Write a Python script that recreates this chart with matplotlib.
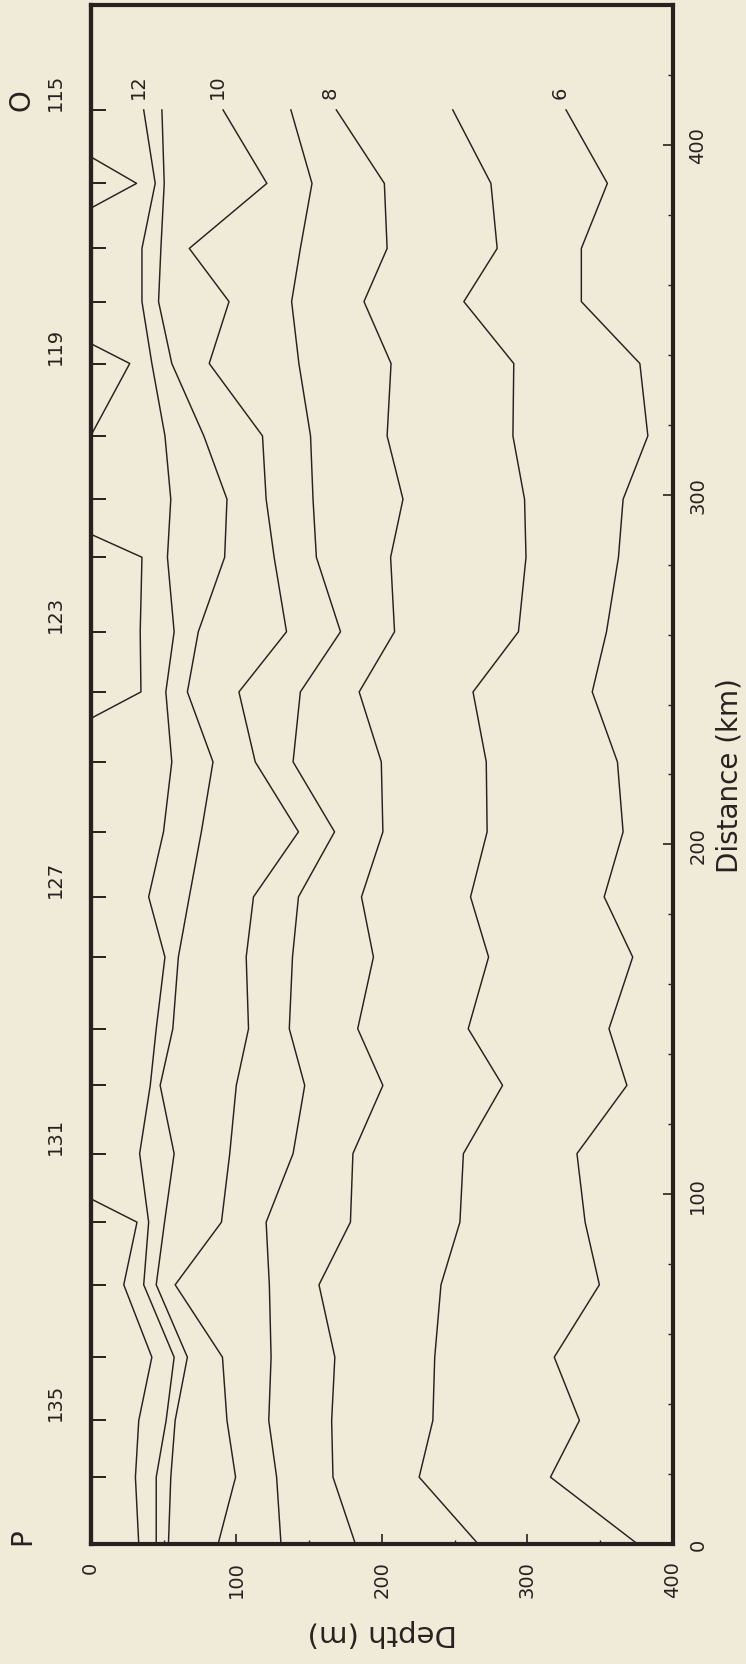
import matplotlib
matplotlib.use("Agg")
import matplotlib.pyplot as plt
from matplotlib.ticker import MultipleLocator

# ---------------- data ----------------
# stations from P (137) to O (115) and their distance along the section (km)
stations = [137, 136, 135, 134, 133, 132, 131, 130, 129, 128, 127, 126,
            125, 124, 123, 122, 121, 120, 119, 118, 117, 116, 115]
distance_km = [0, 19.1, 35.3, 53.4, 74.1, 92.0, 111.6, 131.1, 147.3, 167.8,
               185.0, 203.6, 223.6, 243.6, 260.8, 282.1, 298.7, 316.8,
               337.5, 355.2, 370.4, 389.0, 410.0]
station_labels = ["135", "131", "127", "123", "119", "115"]
section_end_labels = ["P", "O"]

# isotherm depths (m) at each station, P -> O
iso_12 = [45, 45, 51.8, 57.3, 36.4, 39.8, 33.6, 40.9, 45, 51, 39.8, 50,
          55.7, 51.6, 57.3, 52.7, 55, 51, 42, 35.2, 35.2, 44.3, 36.4]
iso_11 = [53.4, 55, 58, 66.4, 45, 50.7, 57.3, 47.7, 56.4, 60.2, 67.7, 76,
          84, 66.4, 73.9, 92, 93.6, 77.7, 55.7, 46.6, 48.2, 50.5, 48.9]
iso_10 = [87.5, 99.5, 93.6, 90.5, 58, 89.8, 95.5, 100, 108.4, 106.8, 111.8,
          142.7, 113, 101.8, 134.5, 126, 120.5, 118, 81.4, 95, 67.7, 121, 90.9]
iso_9 = [130.7, 127.7, 122.3, 123.9, 122.7, 120.5, 139, 147, 136.4, 138.6,
         142.7, 167.5, 139, 144, 171.6, 155, 152.7, 151, 143, 138, 144, 152,
         137.5]
iso_8 = [181.8, 166.4, 165.5, 167.7, 156.8, 178.4, 180.1, 200.7, 183.4,
         194.2, 186, 200.7, 199.6, 184.4, 208.7, 206, 214.5, 203.6, 206.3,
         187.7, 203.6, 201.7, 168.7]
iso_7 = [266.1, 225.6, 235, 236.3, 240.6, 253.6, 256, 282.9, 259.3, 273.3,
         260.9, 272.3, 271.7, 262.6, 293.8, 299, 298, 290, 290.6, 256.3,
         279.2, 274.9, 248.7]
iso_6 = [375.6, 315.8, 335.7, 318.4, 349.4, 339.6, 334, 368.3, 356, 372.3,
         352.7, 365.7, 361.8, 344.5, 354.3, 362.5, 365.7, 382.7, 377.2, 337,
         337, 354.9, 326.5]

# shallowest isotherm, broken where it reaches the surface
iso_13_dist = [[0, 19.1, 35.3, 53.4, 74.1, 92.0, 98.7],
               [236.0, 243.6, 260.8, 282.1, 288.7],
               [316.8, 337.5, 343.2],
               [381.9, 389.0, 396.6]]
iso_13_depth = [[33, 30.7, 33, 42, 22.7, 31.8, 0],
                [0, 34.5, 34, 35.2, 0],
                [0, 26.8, 0],
                [0, 31.5, 0]]

isotherms = [iso_12, iso_11, iso_10, iso_9, iso_8, iso_7, iso_6]
isotherm_names = ["12", "", "10", "", "8", "", "6"]

# ---------------- style ----------------
BG = "#efebd8"
INK = "#2a2020"
plt.rcParams["font.family"] = ["DejaVu Sans"]

fig = plt.figure(figsize=(7.46, 16.65), dpi=100, facecolor=BG)
ax = fig.add_axes([0.1216, 0.0721, 0.7806, 0.9243])
ax.set_facecolor(BG)

for depths in isotherms:
    ax.plot(depths, distance_km, color=INK, lw=1.05)
for dd, zz in zip(iso_13_dist, iso_13_depth):
    ax.plot(zz, dd, color=INK, lw=1.05)

# contour labels at the O end
for depths, name in zip(isotherms, isotherm_names):
    if name:
        ax.text(depths[-1] - 4, distance_km[-1] + 3.5, name, rotation=90,
                ha="center", va="bottom", fontsize=14, color=INK)

ax.set_xlim(0, 400)
ax.set_ylim(0, 440)

for s in ax.spines.values():
    s.set_linewidth(3.0)
    s.set_color(INK)

# depth axis (bottom)
ax.xaxis.set_major_locator(MultipleLocator(100))
ax.xaxis.set_minor_locator(MultipleLocator(50))
ax.tick_params(axis="x", which="major", direction="in", length=7, width=1.2,
               colors=INK, labelsize=14, labelrotation=90, pad=12,
               top=False, bottom=True)
ax.tick_params(axis="x", which="minor", direction="in", length=3, width=1.0,
               colors=INK, top=False, bottom=True)
ax.set_xlabel("Depth (m)", rotation=180, fontsize=21, color=INK, labelpad=15)

# distance axis (right)
ax.yaxis.tick_right()
ax.yaxis.set_label_position("right")
ax.yaxis.set_major_locator(MultipleLocator(100))
ax.yaxis.set_minor_locator(MultipleLocator(20))
ax.tick_params(axis="y", which="major", direction="in", length=7, width=1.2,
               colors=INK, labelsize=14, labelrotation=90, pad=11,
               left=False, right=True)
ax.tick_params(axis="y", which="minor", direction="in", length=3.5, width=1.0,
               colors=INK, left=False, right=True)
for lab in ax.get_yticklabels():
    lab.set_verticalalignment("center")
ax.set_ylabel("Distance (km)", rotation=90, fontsize=20, color=INK, labelpad=6)

# station ticks (left)
sec = ax.secondary_yaxis("left")
sec.set_yticks(distance_km[1:])
sec.set_yticklabels([])
sec.tick_params(axis="y", direction="in", length=11, width=1.4, colors=INK)
sec.spines["left"].set_linewidth(3.0)
sec.spines["left"].set_color(INK)

labelled = {str(s): d for s, d in zip(stations, distance_km)}
for lab in station_labels:
    ax.annotate(lab, xy=(0, labelled[lab]), xycoords=ax.get_yaxis_transform(),
                xytext=(-25.5, 0), textcoords="offset points", rotation=90,
                ha="center", va="bottom", fontsize=14, color=INK)
for lab, d in zip(section_end_labels, [distance_km[0], distance_km[-1]]):
    ax.annotate(lab, xy=(0, d), xycoords=ax.get_yaxis_transform(),
                xytext=(-49.5, 0), textcoords="offset points", rotation=90,
                ha="center", va="bottom", fontsize=20, color=INK)

fig.savefig("out.png", dpi=100, facecolor=BG)
